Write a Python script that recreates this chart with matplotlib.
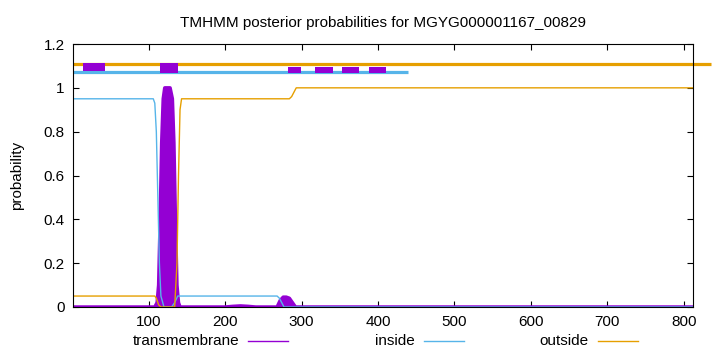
import numpy as np
import matplotlib.pyplot as plt
from matplotlib.lines import Line2D
from matplotlib.ticker import FuncFormatter

plt.rcParams['font.family'] = ['Liberation Sans', 'DejaVu Sans']

# posterior curves (position, probability)
tm_x = [1, 108, 111, 113, 115, 117, 119, 121, 128, 131, 133, 135, 137, 139, 141,
        200, 210, 220, 230, 240, 268, 272, 276, 280, 284, 288, 292, 812]
tm_y = [0, 0, 0.02, 0.1, 0.4, 0.75, 0.95, 1.0, 1.0, 0.95, 0.75, 0.4, 0.1, 0.02, 0,
        0, 0.003, 0.005, 0.003, 0, 0, 0.03, 0.045, 0.045, 0.04, 0.02, 0, 0]

in_x = [1, 106, 108, 110, 112, 114, 116, 120, 130, 134, 138, 268, 271, 274, 277, 812]
in_y = [0.95, 0.95, 0.93, 0.8, 0.5, 0.2, 0.05, 0.0, 0.0, 0.02, 0.05, 0.05, 0.04, 0.02, 0.0, 0.0]

out_x = [1, 108, 110, 113, 116, 134, 137, 139, 141, 143, 284, 287, 290, 293, 812]
out_y = [0.05, 0.05, 0.04, 0.01, 0, 0, 0.2, 0.6, 0.9, 0.95, 0.95, 0.96, 0.98, 1.0, 1.0]

# topology bars drawn above the curves
out_bar = (1, 835, 1.11)
in_bar = (1, 439, 1.07)
seg_start = [14, 115, 282, 318, 353, 388]
seg_end = [43, 138, 299, 341, 375, 410]
seg_low = [1.077, 1.068, 1.068, 1.068, 1.068, 1.068]
seg_high = [1.113, 1.113, 1.097, 1.097, 1.097, 1.097]

purple = '#9400D3'
blue = '#56B4E9'
orange = '#E69F00'

fig = plt.figure(figsize=(7.2, 3.52), dpi=100)
ax = fig.add_axes([73 / 720, 45 / 352, 620 / 720, 263 / 352])

ax.fill_between(tm_x, 0, tm_y, color=purple, lw=0)
ax.plot(tm_x, tm_y, color=purple, lw=2.5)
ax.plot(in_x, in_y, color=blue, lw=1)
ax.plot(out_x, out_y, color=orange, lw=1)

ax.plot(out_bar[:2], [out_bar[2]] * 2, color=orange, lw=2.3, clip_on=False, solid_capstyle='butt')
ax.plot(in_bar[:2], [in_bar[2]] * 2, color=blue, lw=2.3, solid_capstyle='butt')
ax.bar(seg_start, np.array(seg_high) - np.array(seg_low), bottom=seg_low,
       width=np.array(seg_end) - np.array(seg_start), align='edge', color=purple, lw=0,
       zorder=4)

ax.set_xlim(1, 812)
ax.set_ylim(0, 1.2)
ax.set_xticks(range(100, 801, 100))
ax.set_yticks([0, 0.2, 0.4, 0.6, 0.8, 1.0, 1.2])
ax.yaxis.set_major_formatter(FuncFormatter(lambda v, p: '%g' % v))
ax.tick_params(direction='in', top=True, right=True, length=4, labelsize=11, pad=6)
ax.set_ylabel('probability', fontsize=11, labelpad=14)
ax.set_title('TMHMM posterior probabilities for MGYG000001167_00829', fontsize=11, pad=12)

# legend row under the axis
names = ['transmembrane', 'inside', 'outside']
colors = [purple, blue, orange]
text_end = [239, 415, 589]
for name, c, xe in zip(names, colors, text_end):
    fig.text(xe / 720, 1 - 341 / 352, name, ha='right', va='center', fontsize=11)
    fig.add_artist(Line2D([(xe + 9) / 720, (xe + 49) / 720], [1 - 341 / 352] * 2,
                          color=c, lw=1, transform=fig.transFigure))

fig.savefig('out.png', dpi=100)
